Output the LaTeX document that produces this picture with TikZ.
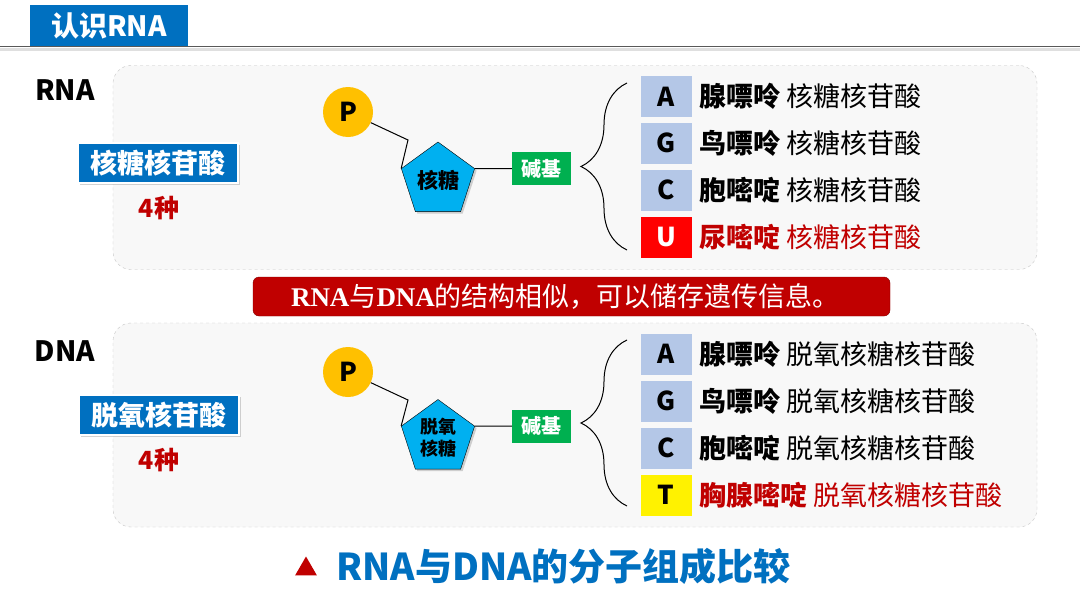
\documentclass[tikz,border=0pt]{standalone}
\usepackage{fontspec}
\setmainfont{Noto Sans CJK SC}
\newfontfamily\latinserif{Liberation Serif}
\usetikzlibrary{shapes.geometric,shadows,decorations.pathreplacing}

\definecolor{titleblue}{HTML}{0070C0}
\definecolor{darkred}{HTML}{C00000}
\definecolor{sugarblue}{HTML}{00B0F0}
\definecolor{phosorange}{HTML}{FFC000}
\definecolor{basegreen}{HTML}{00B050}
\definecolor{letterblue}{HTML}{B4C7E7}
\definecolor{panelgray}{HTML}{F8F8F8}

\newcommand\fsz[1]{\fontsize{#1}{#1}\selectfont}

\begin{document}
\begin{tikzpicture}[x=1pt,y=-1pt,
    panel/.style={draw=gray!45, dashed, fill=panelgray, rounded corners=18pt, minimum width=924pt, minimum height=204pt},
    labelbox/.style={draw=white, line width=1.5pt, fill=titleblue, text=white, font=\fsz{27pt}\bfseries, minimum width=160pt, minimum height=40pt, inner sep=0pt, drop shadow={shadow xshift=2pt, shadow yshift=-2pt, opacity=0.35}},
    phos/.style={circle, fill=phosorange, minimum size=50pt, inner sep=0pt, font=\fsz{26pt}\bfseries},
    sugar/.style={regular polygon, regular polygon sides=5, draw=black, fill=sugarblue, minimum size=77pt, inner sep=0pt, font=\bfseries, drop shadow={shadow xshift=2pt, shadow yshift=-2pt, opacity=0.35}},
    basebox/.style={fill=basegreen, text=white, font=\fsz{20pt}\bfseries, minimum width=59pt, minimum height=33pt, inner sep=0pt},
    letterbox/.style={fill=letterblue, font=\fsz{26pt}\bfseries, minimum width=51pt, minimum height=41pt, inner sep=0pt},
    nameline/.style={anchor=west, font=\fsz{27pt}, inner sep=0pt},
    brace/.style={decorate, decoration={brace, amplitude=46pt}, line width=1pt},
    link/.style={line width=1pt}
]
    \useasboundingbox[fill=white] (0,0) rectangle (1080,608);

    % Title bar
    \draw[gray!25, line width=3pt] (0,49.5) -- (1080,49.5);
    \draw[gray!70!black, line width=1.8pt] (0,46.5) -- (1080,46.5);
    \node[fill=titleblue, text=white, font=\fsz{28pt}\bfseries, minimum width=158pt, minimum height=41pt, inner sep=0pt] (title) at (109,25.5) {认识RNA};

    % RNA panel
    \node[panel] (rnaPanel) at (575,167.5) {};
    \node[font=\fsz{28pt}\bfseries] (rnaTag) at (65,90) {RNA};
    \node[labelbox] (rnaName) at (158,163) {核糖核苷酸};
    \node[text=darkred, font=\fsz{25pt}\bfseries] (rnaKinds) at (159,208) {4种};

    \node[phos] (rnaP) at (348,112) {P};
    \node[sugar, font=\fsz{21pt}\bfseries] (rnaSugar) at (438,180.5) {核糖};
    \node[basebox] (rnaBase) at (541.5,168.5) {碱基};
    \coordinate (rnaBend) at (408,140);
    \draw[link] (rnaP) -- (rnaBend) -- (rnaSugar.corner 2);
    \draw[link] (rnaSugar.corner 5) -- (rnaBase.west);

    \coordinate (rnaBraceBot) at (627,250);
    \coordinate (rnaBraceTop) at (627,83);
    \draw[brace] (rnaBraceBot) -- (rnaBraceTop);

    \node[letterbox] (rnaA) at (666,96.5) {A};
    \node[letterbox] (rnaG) at (666,143) {G};
    \node[letterbox] (rnaC) at (666,190) {C};
    \node[letterbox, fill=red, text=white] (rnaU) at (666,237) {U};
    \node[nameline] (rnaAname) at (699,96.5) {\textbf{腺嘌呤} 核糖核苷酸};
    \node[nameline] (rnaGname) at (699,143) {\textbf{鸟嘌呤} 核糖核苷酸};
    \node[nameline] (rnaCname) at (699,190) {\textbf{胞嘧啶} 核糖核苷酸};
    \node[nameline, text=darkred] (rnaUname) at (699,237) {\textbf{尿嘧啶} 核糖核苷酸};

    % Banner
    \node[fill=darkred, draw=darkred!70!black, rounded corners=6pt, text=white, font=\fsz{27pt}, minimum width=637pt, minimum height=39pt, inner sep=0pt] (banner) at (571.5,296.5)
        {{\latinserif\bfseries RNA}与{\latinserif\bfseries DNA}的结构相似，可以储存遗传信息。\hspace*{12pt}};

    % DNA panel
    \node[panel] (dnaPanel) at (575,425) {};
    \node[font=\fsz{28pt}\bfseries] (dnaTag) at (65,351) {DNA};
    \node[labelbox] (dnaName) at (159,415) {脱氧核苷酸};
    \node[text=darkred, font=\fsz{25pt}\bfseries] (dnaKinds) at (159,460) {4种};

    \node[phos] (dnaP) at (348,372) {P};
    \node[sugar, align=center, font=\fontsize{18pt}{22pt}\selectfont\bfseries] (dnaSugar) at (438,438) {脱氧\\核糖};
    \node[basebox] (dnaBase) at (541.5,426) {碱基};
    \coordinate (dnaBend) at (408,400);
    \draw[link] (dnaP) -- (dnaBend) -- (dnaSugar.corner 2);
    \draw[link] (dnaSugar.corner 5) -- (dnaBase.west);

    \coordinate (dnaBraceBot) at (627,506);
    \coordinate (dnaBraceTop) at (627,340);
    \draw[brace] (dnaBraceBot) -- (dnaBraceTop);

    \node[letterbox] (dnaA) at (666,354) {A};
    \node[letterbox] (dnaG) at (666,401) {G};
    \node[letterbox] (dnaC) at (666,448) {C};
    \node[letterbox, fill=yellow] (dnaT) at (666,495) {T};
    \node[nameline] (dnaAname) at (699,354) {\textbf{腺嘌呤} 脱氧核糖核苷酸};
    \node[nameline] (dnaGname) at (699,401) {\textbf{鸟嘌呤} 脱氧核糖核苷酸};
    \node[nameline] (dnaCname) at (699,448) {\textbf{胞嘧啶} 脱氧核糖核苷酸};
    \node[nameline, text=darkred] (dnaTname) at (699,495) {\textbf{胸腺嘧啶} 脱氧核糖核苷酸};

    % Caption
    \node[regular polygon, regular polygon sides=3, fill=darkred, minimum size=25pt, inner sep=0pt] (capMark) at (306,569) {};
    \node[anchor=west, text=titleblue, font=\fsz{37pt}\bfseries, inner sep=0pt] (caption) at (336,566) {RNA与DNA的分子组成比较};
\end{tikzpicture}
\end{document}
